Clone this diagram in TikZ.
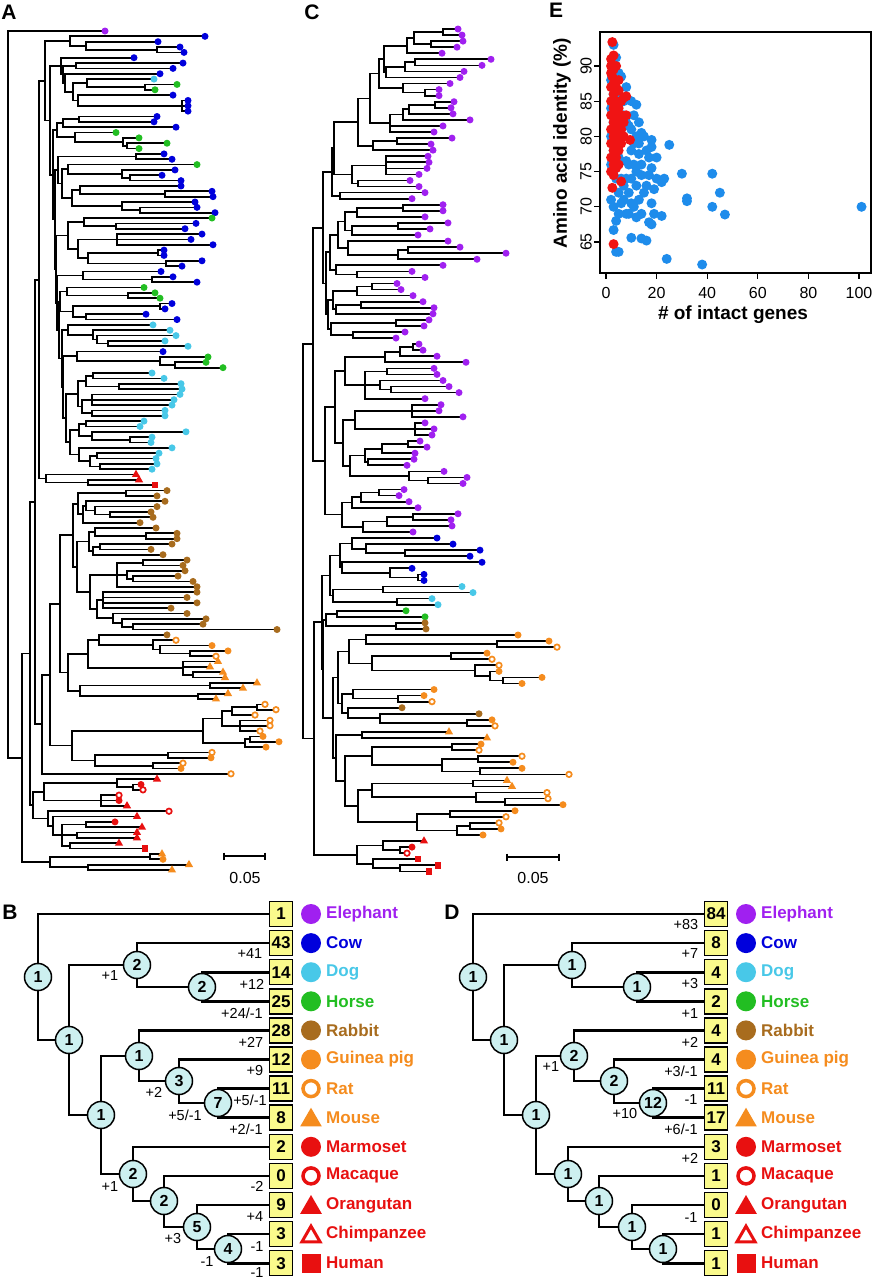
\documentclass[tikz,border=0pt]{standalone}
\usepackage{fontspec}
\setmainfont{Liberation Sans}
\usetikzlibrary{shapes.geometric,backgrounds}

\definecolor{eleph}{RGB}{160,32,240}
\definecolor{cow}{RGB}{0,0,220}
\definecolor{dog}{RGB}{72,200,232}
\definecolor{horse}{RGB}{34,190,34}
\definecolor{rabbit}{RGB}{168,108,30}
\definecolor{rodent}{RGB}{245,140,30}
\definecolor{primate}{RGB}{232,16,16}
\definecolor{nodefill}{RGB}{205,240,240}
\definecolor{boxfill}{RGB}{250,250,140}
\definecolor{ptblue}{RGB}{30,140,235}
\definecolor{ptred}{RGB}{240,20,20}

% phylogram helpers: \tleaf{tip x}{marker}, \tclade{node x}{children}
\newcount\leafno
\newcommand\childdone{\ifx\cfirst\relax\let\cfirst\rety\fi\let\clast\rety}
\newcommand\tleaf[2]{%
  \global\advance\leafno by 1
  \pgfmathsetmacro\ly{\ty+(\the\leafno-1)*\dy}%
  \draw[branch] (\px,\ly) -- (#1,\ly);
  \node[#2] (\tn-\the\leafno) at (#1,\ly) {};
  \xdef\rety{\ly}\childdone}
\newcommand\tclade[2]{%
  \begingroup
  \let\ppx\px \def\px{#1}\let\cfirst\relax
  #2%
  \pgfmathsetmacro\my{(\cfirst+\clast)/2}%
  \draw[branch] (#1,\cfirst) -- (#1,\clast);
  \draw[branch] (\ppx,\my) -- (#1,\my);
  \xdef\rety{\my}%
  \endgroup
  \childdone}

\tikzset{
  branch/.style={line width=1.7pt, line cap=rect},
  tdot/.style={circle, fill=#1, inner sep=0pt, minimum size=7pt},
  tring/.style={circle, draw=#1, fill=white, line width=1.7pt, inner sep=0pt, minimum size=5.5pt},
  ttri/.style={regular polygon, regular polygon sides=3, fill=#1, inner sep=0pt, minimum size=9.5pt},
  el/.style={tdot=eleph}, co/.style={tdot=cow}, dg/.style={tdot=dog},
  ho/.style={tdot=horse}, rb/.style={tdot=rabbit}, gp/.style={tdot=rodent},
  rt/.style={tring=rodent}, ms/.style={ttri=rodent}, mm/.style={tdot=primate},
  mq/.style={tring=primate}, og/.style={ttri=primate},
  hu/.style={rectangle, fill=primate, inner sep=0pt, minimum size=6.5pt},
  panel/.style={inner sep=0pt, font=\fontsize{21}{21}\selectfont\bfseries},
  scalelab/.style={inner sep=0pt, font=\fontsize{16}{16}\selectfont},
  gnode/.style={circle, draw, line width=1.5pt, fill=nodefill, inner sep=0pt, minimum size=27pt, font=\fontsize{16}{16}\selectfont\bfseries},
  cnt/.style={rectangle, draw, line width=1.5pt, fill=boxfill, inner sep=0pt, minimum width=23pt, minimum height=25pt, font=\fontsize{17}{17}\selectfont\bfseries},
  gtree/.style={line width=2.6pt, line cap=rect},
  elab/.style={inner sep=0pt, font=\fontsize{14.5}{14.5}\selectfont},
  spname/.style={anchor=west, inner sep=0pt, font=\fontsize{17}{17}\selectfont\bfseries},
  kdot/.style={circle, fill=#1, inner sep=0pt, minimum size=20pt},
  kring/.style={circle, draw=#1, line width=3.5pt, fill=white, inner sep=0pt, minimum size=16pt},
  ktri/.style={regular polygon, regular polygon sides=3, fill=#1, inner sep=0pt, minimum size=25pt, yshift=-2.5pt},
  kotri/.style={regular polygon, regular polygon sides=3, draw=#1, line width=3pt, fill=white, inner sep=0pt, minimum size=21pt, yshift=-2.5pt},
  ksq/.style={rectangle, fill=#1, inner sep=0pt, minimum size=19pt},
  axisline/.style={line width=1.2pt},
  ticklab/.style={inner sep=0pt, font=\fontsize{16}{16}\selectfont},
  axlab/.style={inner sep=0pt, font=\fontsize{19}{19}\selectfont\bfseries},
}

\begin{document}
\begin{tikzpicture}[x=1pt,y=-1pt]
\useasboundingbox (0,0) rectangle (873,1280);
\begin{scope}[on background layer]
  \fill[white] (0,0) rectangle (873,1280);
\end{scope}

% ---------- A: full tree ----------
\node[panel] (labA) at (9,12) {A};
\def\tn{A}\def\ty{31}\def\dy{5.344}\global\leafno=0
\def\px{8}\let\cfirst\relax
\tclade{8}{%
\tleaf{105}{el}%
\tclade{22}{%
\tclade{30}{%
\tclade{35}{%
\tclade{39}{%
\tclade{45}{%
  \tclade{70}{\tleaf{205}{co}\tclade{86}{\tleaf{158}{co}\tclade{157}{\tleaf{180}{co}\tleaf{184}{co}}}}%
  \tclade{50}{%
    \tclade{61}{%
      \tleaf{134}{co}%
      \tclade{63}{%
        \tclade{76}{\tleaf{183}{co}\tleaf{173}{co}}%
        \tclade{65}{%
          \tleaf{160}{co}%
          \tclade{73}{%
            \tclade{87}{\tleaf{154}{dg}\tclade{145}{\tleaf{177}{ho}\tleaf{155}{ho}}}%
            \tclade{78}{\tleaf{173}{co}\tclade{182}{\tleaf{188}{co}\tleaf{188}{co}\tleaf{188}{co}}}%
          }%
        }%
      }%
    }%
    \tclade{53}{%
      \tclade{57}{%
        \tclade{63}{\tclade{79}{\tleaf{157}{co}\tleaf{154}{co}}\tleaf{176}{co}}%
        \tclade{75}{\tleaf{116}{ho}\tclade{123}{\tleaf{139}{ho}\tclade{127}{\tleaf{167}{ho}\tleaf{139}{ho}}}}%
      }%
      \tclade{55}{%
        \tclade{58}{%
          \tclade{136}{\tleaf{164}{co}\tleaf{172}{co}}%
          \tclade{62}{%
            \tclade{68}{\tleaf{197}{ho}\tclade{122}{\tleaf{175}{co}\tclade{130}{\tleaf{162}{co}\tleaf{181}{co}}}}%
            \tclade{72}{%
              \tclade{80}{\tleaf{181}{co}\tclade{165}{\tleaf{212}{co}\tleaf{213}{co}}}%
              \tclade{122}{\tleaf{195}{co}\tclade{140}{\tleaf{197}{co}\tleaf{215}{co}}}%
            }%
          }%
        }%
        \tclade{56}{%
          \tclade{68}{%
            \tclade{84}{\tleaf{212}{ho}\tclade{116}{\tleaf{196}{co}\tleaf{185}{co}}}%
            \tclade{78}{%
              \tclade{117}{\tleaf{202}{co}\tleaf{191}{co}\tleaf{213}{co}}%
              \tclade{88}{\tclade{158}{\tleaf{164}{co}\tleaf{164}{co}}\tclade{166}{\tleaf{202}{co}\tleaf{182}{co}}}%
            }%
          }%
          \tclade{57}{%
            \tclade{83}{\tleaf{161}{co}\tclade{152}{\tleaf{173}{co}\tleaf{197}{co}}}%
            \tclade{59}{%
              \tclade{60}{%
                \tclade{67}{\tleaf{144}{ho}\tclade{128}{\tleaf{155}{ho}\tleaf{160}{ho}}}%
                \tclade{73}{\tclade{160}{\tleaf{172}{co}\tleaf{165}{co}}\tclade{86}{\tleaf{146}{co}\tleaf{177}{co}}}%
              }%
              \tclade{62}{%
                \tclade{68}{\tleaf{153}{dg}\tclade{93}{\tleaf{170}{dg}\tclade{97}{\tleaf{176}{dg}\tclade{108}{\tleaf{165}{dg}\tleaf{188}{dg}}}}}%
                \tclade{63}{%
                  \tclade{77}{\tleaf{163}{co}\tclade{160}{\tleaf{208}{ho}\tclade{175}{\tleaf{206}{ho}\tleaf{223}{ho}}}}%
                  \tclade{66}{%
                    \tclade{78}{%
                      \tclade{86}{\tclade{93}{\tleaf{152}{dg}\tleaf{164}{dg}}\tclade{119}{\tleaf{181}{dg}\tleaf{182}{dg}}}%
                      \tclade{82}{\tclade{92}{\tleaf{180}{dg}\tleaf{174}{dg}\tleaf{172}{dg}}\tclade{92}{\tleaf{165}{dg}\tleaf{165}{dg}}}%
                    }%
                    \tclade{70}{%
                      \tclade{79}{\tclade{86}{\tleaf{144}{dg}\tleaf{140}{dg}}\tclade{92}{\tleaf{186}{dg}\tclade{130}{\tleaf{152}{dg}\tleaf{151}{dg}}}}%
                      \tclade{79}{\tleaf{172}{dg}\tclade{90}{\tclade{97}{\tleaf{159}{dg}\tleaf{156}{dg}}\tclade{100}{\tleaf{157}{dg}\tleaf{152}{dg}}}}%
                    }%
                  }%
                }%
              }%
            }%
          }%
        }%
      }%
    }%
  }%
}%
\tclade{46}{\tleaf{136}{og}\tclade{88}{\tleaf{139}{og}\tleaf{155}{hu}}}%
}%
\tclade{42}{%
  \tclade{50}{%
    \tclade{60}{%
      \tclade{73}{%
        \tclade{78}{%
          \tclade{126}{\tleaf{167}{rb}\tleaf{157}{rb}}%
          \tclade{83}{\tclade{86}{\tleaf{165}{rb}\tclade{95}{\tleaf{157}{rb}\tclade{110}{\tleaf{151}{rb}\tleaf{153}{rb}}}}\tleaf{140}{rb}}%
        }%
        \tclade{77}{%
          \tclade{89}{%
            \tclade{95}{\tleaf{156}{rb}\tclade{146}{\tleaf{177}{rb}\tleaf{177}{rb}}}%
            \tclade{93}{\tclade{100}{\tleaf{172}{rb}\tleaf{151}{rb}}\tleaf{163}{rb}}%
          }%
          \tclade{90}{%
            \tclade{117}{\tclade{143}{\tleaf{187}{rb}\tleaf{183}{rb}}\tclade{127}{\tleaf{185}{rb}\tclade{133}{\tleaf{178}{rb}\tleaf{193}{rb}}}\tleaf{197}{rb}}%
            \tclade{97}{%
              \tclade{103}{\tleaf{197}{rb}\tleaf{187}{rb}\tleaf{197}{rb}\tleaf{171}{rb}}%
              \tclade{113}{\tleaf{187}{rb}\tclade{122}{\tleaf{206}{rb}\tclade{133}{\tleaf{203}{rb}\tleaf{277}{rb}}}}%
            }%
          }%
        }%
      }%
      \tclade{68}{%
        \tclade{88}{%
          \tclade{99}{\tleaf{167}{rb}\tclade{153}{\tleaf{176}{rt}\tclade{160}{\tleaf{212}{gp}\tclade{190}{\tleaf{228}{gp}\tleaf{216}{rt}}}}}%
          \tclade{183}{\tleaf{218}{ms}\tleaf{210}{ms}\tclade{193}{\tleaf{223}{ms}\tleaf{225}{ms}}}%
        }%
        \tclade{80}{\tclade{210}{\tleaf{257}{ms}\tleaf{243}{ms}}\tclade{198}{\tleaf{228}{ms}\tleaf{216}{ms}}}%
      }%
    }%
    \tclade{72}{%
      \tclade{203}{%
        \tclade{222}{\tclade{232}{\tclade{257}{\tleaf{265}{rt}\tleaf{276}{rt}}\tleaf{255}{rt}}\tclade{240}{\tleaf{270}{rt}\tleaf{270}{rt}\tleaf{260}{rt}}}%
        \tclade{245}{\tclade{250}{\tleaf{263}{gp}\tleaf{279}{gp}}\tleaf{266}{gp}}%
      }%
      \tclade{95}{\tclade{168}{\tleaf{212}{rt}\tleaf{211}{gp}}\tclade{153}{\tleaf{183}{rt}\tleaf{181}{gp}}}%
    }%
  }%
  \tleaf{231}{rt}%
}%
}%
\tclade{33}{%
  \tclade{44}{\tclade{117}{\tleaf{157}{og}\tclade{133}{\tleaf{141}{mm}\tleaf{143}{mq}}}\tclade{101}{\tleaf{119}{mq}\tleaf{119}{mm}\tleaf{127}{og}}}%
  \tclade{48}{%
    \tleaf{169}{mq}%
    \tclade{53}{%
      \tleaf{137}{og}%
      \tclade{62}{\tclade{86}{\tleaf{115}{mm}\tleaf{142}{og}}\tclade{77}{\tleaf{137}{og}\tleaf{137}{og}}\tclade{70}{\tleaf{119}{og}\tleaf{145}{hu}}}%
    }%
  }%
}%
}%
\tclade{50}{\tclade{150}{\tleaf{162}{ms}\tleaf{163}{gp}}\tclade{88}{\tleaf{189}{ms}\tleaf{172}{ms}}}%
}%
}
\draw[line width=1.7pt] (224,856) -- (265,856) (224,852.5) -- (224,859.5) (265,852.5) -- (265,859.5);
\node[scalelab] (sbA) at (245,878) {0.05};

% ---------- C: intact genes ----------
\node[panel] (labC) at (312,12) {C};
\def\tn{C}\def\ty{29}\def\dy{6.06}\global\leafno=0
\def\px{303}\let\cfirst\relax
\tclade{303}{%
\tclade{313}{%
  \tclade{323}{%
    \tclade{332}{%
      \tclade{334}{%
        \tclade{358}{%
          \tclade{370}{%
            \tclade{379}{%
              \tclade{384}{%
                \tclade{407}{\tclade{414}{\tclade{443}{\tleaf{458}{el}\tleaf{462}{el}}\tclade{431}{\tleaf{463}{el}\tleaf{457}{el}}}\tleaf{442}{el}}%
                \tclade{386}{\tclade{405}{\tclade{415}{\tleaf{491}{el}\tleaf{482}{el}}\tleaf{464}{el}}\tleaf{460}{el}}%
              }%
              \tclade{403}{\tleaf{450}{el}\tclade{425}{\tleaf{439}{el}\tleaf{439}{el}}}%
            }%
            \tclade{390}{\tclade{403}{\tclade{409}{\tclade{435}{\tleaf{454}{el}\tleaf{451}{el}}\tleaf{453}{el}}\tleaf{470}{el}}\tleaf{443}{el}\tleaf{434}{el}}%
          }%
          \tclade{373}{\tclade{397}{\tleaf{452}{el}\tleaf{431}{el}}\tleaf{433}{el}}%
        }%
        \tclade{352}{\tclade{386}{\tleaf{428}{el}\tleaf{429}{el}\tleaf{427}{el}\tleaf{419}{el}}\tclade{358}{\tleaf{410}{el}\tleaf{419}{el}}}%
      }%
      \tclade{340}{\tleaf{425}{el}\tleaf{412}{el}}%
    }%
    \tclade{326}{%
      \tclade{330}{%
        \tclade{338}{%
          \tclade{345}{\tclade{357}{\tclade{403}{\tleaf{443}{el}\tleaf{443}{el}}\tleaf{425}{el}}\tclade{352}{\tclade{398}{\tleaf{448}{el}\tleaf{430}{el}}\tleaf{418}{el}}}%
          \tclade{348}{\tleaf{448}{el}\tclade{398}{\tclade{408}{\tleaf{460}{el}\tleaf{506}{el}}\tleaf{477}{el}}}%
        }%
        \tclade{336}{\tleaf{443}{el}\tclade{357}{\tleaf{412}{el}\tleaf{425}{el}}}%
      }%
      \tclade{328}{%
        \tclade{333}{\tclade{357}{\tclade{372}{\tleaf{397}{el}\tleaf{401}{el}}\tleaf{413}{el}}\tclade{336}{\tclade{361}{\tleaf{423}{el}\tleaf{434}{el}}\tleaf{433}{el}}}%
        \tclade{331}{\tclade{396}{\tleaf{429}{el}\tleaf{424}{el}}\tclade{353}{\tleaf{405}{el}\tleaf{396}{el}}}%
      }%
    }%
  }%
  \tclade{325}{%
    \tclade{335}{%
      \tclade{345}{%
        \tclade{385}{\tclade{400}{\tclade{413}{\tleaf{419}{el}\tleaf{423}{el}}\tleaf{437}{el}}\tleaf{466}{el}}%
        \tclade{365}{\tclade{387}{\tleaf{434}{el}\tleaf{437}{el}}\tclade{380}{\tleaf{443}{el}\tclade{391}{\tleaf{449}{el}\tleaf{459}{el}}}\tleaf{425}{el}}%
      }%
      \tclade{343}{%
        \tclade{355}{\tclade{412}{\tleaf{441}{el}\tleaf{439}{el}\tleaf{463}{el}}\tclade{415}{\tleaf{425}{el}\tleaf{434}{el}\tleaf{432}{el}}}%
        \tclade{350}{%
          \tclade{365}{\tclade{382}{\tclade{408}{\tleaf{420}{el}\tleaf{427}{el}}\tleaf{415}{el}}\tclade{368}{\tleaf{414}{el}\tleaf{407}{el}}}%
          \tclade{409}{\tleaf{444}{el}\tclade{428}{\tleaf{467}{el}\tleaf{463}{el}}}%
        }%
      }%
    }%
    \tclade{342}{%
      \tclade{352}{\tclade{361}{\tclade{379}{\tleaf{404}{el}\tleaf{399}{el}}\tleaf{409}{el}}\tleaf{418}{el}}%
      \tclade{363}{\tclade{387}{\tclade{413}{\tleaf{458}{el}\tleaf{451}{el}}\tleaf{452}{el}}\tleaf{413}{el}}%
    }%
  }%
}%
\tclade{314}{%
  \tclade{322}{%
    \tclade{330}{%
      \tclade{340}{%
        \tclade{352}{\tleaf{437}{co}\tclade{366}{\tleaf{453}{co}\tclade{405}{\tleaf{480}{co}\tleaf{470}{co}}}}%
        \tclade{342}{\tleaf{482}{co}\tclade{390}{\tleaf{412}{co}\tclade{418}{\tleaf{424}{co}\tleaf{424}{co}}}}%
      }%
      \tclade{333}{\tclade{383}{\tleaf{462}{dg}\tleaf{473}{dg}}\tclade{397}{\tleaf{432}{dg}\tleaf{438}{dg}}}%
    }%
    \tclade{323}{%
      \tclade{326}{\tclade{337}{\tleaf{406}{ho}\tleaf{425}{ho}}\tclade{396}{\tleaf{425}{rb}\tleaf{426}{rb}}}%
      \tclade{333}{%
        \tclade{338}{%
          \tclade{349}{%
            \tclade{366}{\tleaf{518}{gp}\tclade{497}{\tleaf{549}{gp}\tleaf{557}{rt}}}%
            \tclade{372}{\tclade{451}{\tleaf{487}{gp}\tleaf{492}{rt}}\tclade{475}{\tleaf{499}{rt}\tclade{490}{\tleaf{499}{gp}\tclade{503}{\tleaf{542}{gp}\tleaf{522}{gp}}}}}%
          }%
          \tclade{342}{%
            \tclade{353}{\tleaf{434}{gp}\tclade{398}{\tleaf{424}{gp}\tleaf{432}{rt}}}%
            \tclade{348}{\tleaf{402}{rb}\tclade{380}{\tleaf{479}{rb}\tclade{467}{\tleaf{492}{gp}\tleaf{495}{rt}}}}%
          }%
        }%
        \tclade{336}{%
          \tclade{362}{\tleaf{449}{ms}\tleaf{487}{ms}}%
          \tclade{345}{%
            \tclade{372}{\tclade{452}{\tleaf{481}{gp}\tleaf{479}{rt}}\tclade{442}{\tclade{478}{\tleaf{522}{rt}\tleaf{513}{gp}}\tclade{480}{\tleaf{522}{gp}\tleaf{569}{rt}}}}%
            \tclade{358}{%
              \tclade{372}{\tclade{473}{\tleaf{507}{ms}\tleaf{512}{ms}}\tclade{476}{\tleaf{547}{rt}\tclade{505}{\tleaf{548}{rt}\tleaf{563}{gp}}}}%
              \tclade{417}{\tclade{450}{\tleaf{515}{gp}\tleaf{506}{rt}}\tclade{457}{\tclade{470}{\tleaf{499}{rt}\tleaf{501}{gp}}\tleaf{483}{gp}}}%
            }%
          }%
        }%
      }%
    }%
  }%
  \tclade{357}{\tclade{383}{\tleaf{424}{og}\tclade{400}{\tleaf{412}{mm}\tleaf{407}{mq}}}\tclade{373}{\tleaf{418}{hu}\tclade{400}{\tleaf{438}{hu}\tleaf{429}{hu}}}}%
}%
}
\draw[line width=1.7pt] (507,857) -- (559,857) (507,853.5) -- (507,860.5) (559,853.5) -- (559,860.5);
\node[scalelab] (sbC) at (533,878) {0.05};

% ---------- E: scatter ----------
\node[panel] (labE) at (556,10) {E};
\foreach \a/\b in {3/93,4/91.2,2/88,3/86,5/89,6/88.5,2/84,4/82,10/85,12/84.5,11/83,7/83,8/82,6/81,9/81.5,
  14/80.5,15/80,18/79.5,25/78.8,10/78,18/78.5,13/77.5,17/77,8/76.5,5/77,3/78,2/80,18/75.5,12/75,14/74.5,
  30/74.7,42/74.7,22/73.5,23/74,12/73,19/72.5,9/72,45/72,32/71.2,32/70.8,10/70.5,18/70.5,6/70.5,3/70,
  42/70,101/70,47/68.9,22/68.7,8/69,12/68.5,17/67.8,4/68,3/66.7,10/65.6,14/65.5,16/65.2,4/63.6,5/63.6,
  24/62.6,38/61.8,11/76,14/76,16/73,20/74,15/72,13/71,11/70,9/69,14/69,7/71,5/72,4/74,6/74,8/74,3/75,
  2/71,20/77,16/78,12/80,10/81,13/82,7/85,8/87,5/86,3/82,2/76,19/69,18/67.5,5/69,7/73,9/76,10/74,17/74.5,13/79,11/79}
  \fill[ptblue] ({606+2.53*\a},{66+7.04*(90-\b)}) circle[radius=5pt];
\foreach \a/\b in {2.5/93.4,2/90,3/89.5,2.5/88.5,3.5/88,2/87,4/87,3/86,5/86.5,2/85,4/85,6/85,3/84,5/84,7/85.5,
  8/85.7,2/83,4/83,6/83,8/83,3/82,5/82,7/82,2/81,4/81,6/81,3/80,5/80,9.5/79.5,2/79,4/79,6/79,3/78,5/78,
  2/77,4/77,3/76,5/76,2/75,4/75.5,3/74.5,6/73.6,2.5/72.7,3/64.7,2/91,3/91.5,4/90,2/89,5/88,4/84,6/80,7/80,3/87.5}
  \fill[ptred] ({606+2.53*\a},{66+7.04*(90-\b)}) circle[radius=5pt];
\draw[axisline] (600,32) rectangle (871,273);
\foreach \v in {0,20,...,100} {
  \draw[axisline] ({606+2.53*\v},273) -- ++(0,6);
  \node[ticklab] (xt\v) at ({606+2.53*\v},293) {\v};
}
\foreach \v in {65,70,...,90} {
  \draw[axisline] (600,{66+7.04*(90-\v)}) -- ++(-6,0);
  \node[ticklab, rotate=90] (yt\v) at (586,{66+7.04*(90-\v)}) {\v};
}
\node[axlab] (xlab) at (733,315) {\# of intact genes};
\node[axlab, rotate=90] (ylab) at (562,143) {Amino acid identity (\%)};

% ---------- B: gains and losses, all genes ----------
\node[panel] (labB) at (10,912) {B};
\foreach \nm/\x/\y/\t in {r/38/977/1, a/69/1040/1, b/137/965/2, c/202/987/2, e/101/1115/1, f/139/1056/1,
  g/179/1081/3, h/218/1103/7, i/133/1174/2, j/164/1201/2, l/197/1227/5, m/228/1249/4}
  \node[gnode] (B\nm) at (\x,\y) {\t};
\foreach \t [count=\k] in {1,43,14,25,28,12,11,8,2,0,9,3,3}
  \node[cnt] (Bk\k) at (281,{914+(\k-1)*29.1}) {\t};
\begin{scope}[on background layer]
  \foreach \p/\c in {r/k1,r/a,a/b,a/e,b/k2,b/c,c/k3,c/k4,e/f,e/i,f/k5,f/g,g/k6,g/h,h/k7,h/k8,
    i/k9,i/j,j/k10,j/l,l/k11,l/m,m/k12,m/k13}
    \draw[gtree] (B\p.center) |- (B\c.center);
\end{scope}
\foreach \x/\y/\t [count=\k] in {110/975/+1, 250/953/+41, 252/984/+12, 242/1013/{+24/-1}, 251/1042/+27,
  255/1070/+9, 154/1092/+2, 250/1100/{+5/-1}, 185/1115/{+5/-1}, 246/1129/{+2/-1}, 110/1186/+1,
  257/1186/-2, 255/1216/+4, 173/1238/+3, 257/1246/-1, 207/1261/-1, 257/1272/-1}
  \node[elab] (Be\k) at (\x,\y) {\t};

% ---------- D: gains and losses, intact genes ----------
\node[panel] (labD) at (452,912) {D};
\begin{scope}[xshift=435pt]
\foreach \nm/\x/\y/\t in {r/38/977/1, a/69/1040/1, b/137/965/1, c/202/987/1, e/101/1115/1, f/139/1056/2,
  g/179/1081/2, h/218/1103/12, i/133/1174/1, j/164/1201/1, l/197/1227/1, m/228/1249/1}
  \node[gnode] (D\nm) at (\x,\y) {\t};
\foreach \t [count=\k] in {84,8,4,2,4,4,11,17,3,1,0,1,1}
  \node[cnt] (Dk\k) at (281,{914+(\k-1)*29.1}) {\t};
\begin{scope}[on background layer]
  \foreach \p/\c in {r/k1,r/a,a/b,a/e,b/k2,b/c,c/k3,c/k4,e/f,e/i,f/k5,f/g,g/k6,g/h,h/k7,h/k8,
    i/k9,i/j,j/k10,j/l,l/k11,l/m,m/k12,m/k13}
    \draw[gtree] (D\p.center) |- (D\c.center);
\end{scope}
\foreach \x/\y/\t [count=\k] in {251/924/+83, 255/953/+7, 255/983/+3, 255/1013/+1, 255/1042/+2,
  116/1066/+1, 246/1071/{+3/-1}, 256/1099/-1, 190/1113/+10, 246/1129/{+6/-1}, 255/1158/+2, 256/1217/-1}
  \node[elab] (De\k) at (\x,\y) {\t};
\end{scope}

% species legend, both panels
\foreach \pn/\sx in {B/0, D/435} {
  \foreach \sp/\col/\mk [count=\k] in {Elephant/eleph/kdot, Cow/cow/kdot, Dog/dog/kdot, Horse/horse/kdot,
    Rabbit/rabbit/kdot, Guinea pig/rodent/kdot, Rat/rodent/kring, Mouse/rodent/ktri, Marmoset/primate/kdot,
    Macaque/primate/kring, Orangutan/primate/ktri, Chimpanzee/primate/kotri, Human/primate/ksq} {
    \node[\mk=\col] (\pn s\k) at ({311+\sx},{914+(\k-1)*29.1}) {};
    \node[spname, text=\col] (\pn n\k) at ({326+\sx},{914+(\k-1)*29.1}) {\sp};
  }
}
\end{tikzpicture}
\end{document}
